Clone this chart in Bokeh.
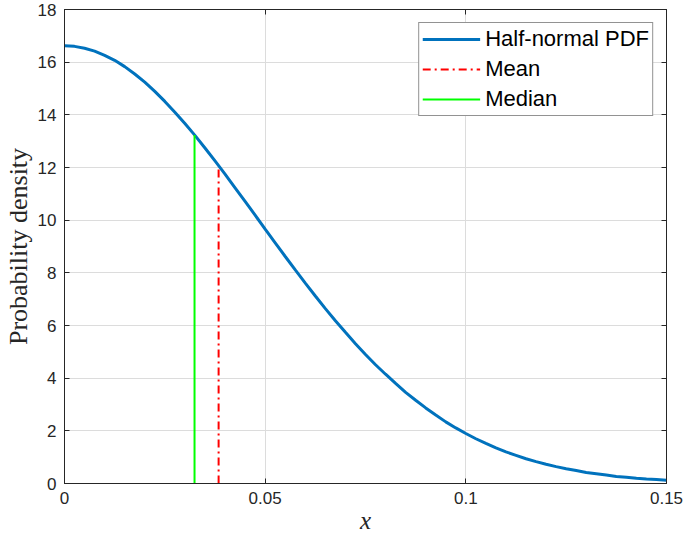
from bokeh.plotting import figure
from bokeh.models import Legend, LegendItem, FixedTicker, Range1d, LinearAxis
from bokeh.embed import file_html
from bokeh.resources import INLINE

# Half-normal PDF values
x_vals = [0.0000, 0.0025, 0.0050, 0.0075, 0.0100, 0.0125, 0.0150, 0.0175, 0.0200, 0.0225,
          0.0250, 0.0275, 0.0300, 0.0325, 0.0350, 0.0375, 0.0400, 0.0425, 0.0450, 0.0475,
          0.0500, 0.0525, 0.0550, 0.0575, 0.0600, 0.0625, 0.0650, 0.0675, 0.0700, 0.0725,
          0.0750, 0.0775, 0.0800, 0.0825, 0.0850, 0.0875, 0.0900, 0.0925, 0.0950, 0.0975,
          0.1000, 0.1025, 0.1050, 0.1075, 0.1100, 0.1125, 0.1150, 0.1175, 0.1200, 0.1225,
          0.1250, 0.1275, 0.1300, 0.1325, 0.1350, 0.1375, 0.1400, 0.1425, 0.1450, 0.1475,
          0.1500]
pdf_vals = [16.62, 16.60, 16.53, 16.42, 16.26, 16.07, 15.83, 15.55, 15.24, 14.89,
            14.51, 14.10, 13.67, 13.22, 12.74, 12.25, 11.75, 11.23, 10.71, 10.19,
            9.66, 9.14, 8.62, 8.11, 7.61, 7.12, 6.64, 6.18, 5.74, 5.31,
            4.90, 4.51, 4.15, 3.80, 3.46, 3.16, 2.87, 2.60, 2.34, 2.11,
            1.90, 1.70, 1.52, 1.35, 1.20, 1.07, 0.94, 0.83, 0.73, 0.64,
            0.56, 0.49, 0.42, 0.37, 0.32, 0.27, 0.24, 0.20, 0.17, 0.15,
            0.126]

mean_x = 0.0384
mean_y = 12.07
median_x = 0.0324
median_y = 13.23

x_ticks = [0, 0.05, 0.1, 0.15]
x_tick_labels = {0: "0", 0.05: "0.05", 0.1: "0.1", 0.15: "0.15"}
y_ticks = [0, 2, 4, 6, 8, 10, 12, 14, 16, 18]

p = figure(width=685, height=540, output_backend="svg", toolbar_location=None,
           x_range=Range1d(0, 0.15), y_range=Range1d(0, 18),
           min_border_left=64, min_border_right=19, min_border_top=9, min_border_bottom=57)
p.background_fill_color = "white"
p.border_fill_color = "white"
p.outline_line_color = "#262626"
p.outline_line_width = 1
p.outline_line_alpha = 1

bottom_axis = p.below[0]
left_axis = p.left[0]

r_pdf = p.line(x_vals, pdf_vals, line_color="#0072BD", line_width=3)
r_mean = p.segment(x0=[mean_x], y0=[0], x1=[mean_x], y1=[mean_y],
                   line_color="#FF0000", line_width=2, line_dash="8 4 2 4")
r_med = p.segment(x0=[median_x], y0=[0], x1=[median_x], y1=[median_y],
                  line_color="#00FF00", line_width=2)

top_axis = LinearAxis(ticker=FixedTicker(ticks=x_ticks))
right_axis = LinearAxis(ticker=FixedTicker(ticks=y_ticks))
for ax in (top_axis, right_axis):
    ax.major_label_text_font_size = "0px"
    ax.major_label_standoff = 0
    ax.major_label_text_alpha = 0
p.add_layout(top_axis, "above")
p.add_layout(right_axis, "right")

for ax in (bottom_axis, left_axis, top_axis, right_axis):
    ax.axis_line_color = "#262626"
    ax.major_tick_line_color = "#262626"
    ax.major_tick_in = 5
    ax.major_tick_out = 0
    ax.minor_tick_line_color = None
    ax.major_label_text_font = "Liberation Sans"
    ax.major_label_text_color = "#262626"

for ax in (bottom_axis, left_axis):
    ax.major_label_text_font_size = "17px"
    ax.major_label_standoff = 8

bottom_axis.ticker = FixedTicker(ticks=x_ticks)
bottom_axis.major_label_overrides = x_tick_labels
left_axis.ticker = FixedTicker(ticks=y_ticks)

bottom_axis.axis_label = "x"
bottom_axis.axis_label_text_font = "Liberation Serif"
bottom_axis.axis_label_text_font_style = "italic"
bottom_axis.axis_label_text_font_size = "25px"
bottom_axis.axis_label_text_color = "#262626"
bottom_axis.axis_label_standoff = 0

left_axis.axis_label = "Probability density"
left_axis.axis_label_text_font = "Liberation Serif"
left_axis.axis_label_text_font_style = "normal"
left_axis.axis_label_text_font_size = "26px"
left_axis.axis_label_text_color = "#262626"
left_axis.axis_label_standoff = 2

p.xgrid.ticker = FixedTicker(ticks=x_ticks)
p.ygrid.ticker = FixedTicker(ticks=y_ticks)
for g in (p.xgrid[0], p.ygrid[0]):
    g.grid_line_color = "#dcdcdc"
    g.grid_line_width = 1

legend = Legend(items=[
    LegendItem(label="Half-normal PDF", renderers=[r_pdf]),
    LegendItem(label="Mean", renderers=[r_mean]),
    LegendItem(label="Median", renderers=[r_med]),
], location="top_right")
legend.label_text_font = "Liberation Sans"
legend.label_text_font_size = "22px"
legend.label_text_color = "#000000"
legend.border_line_color = "#262626"
legend.border_line_width = 1
legend.background_fill_alpha = 1
legend.glyph_width = 58
legend.glyph_height = 26
legend.label_standoff = 5
legend.spacing = 4
legend.padding = 3
legend.margin = 13
legend.label_height = 26
p.add_layout(legend)

open("out.html", "w").write(file_html(p, INLINE))
